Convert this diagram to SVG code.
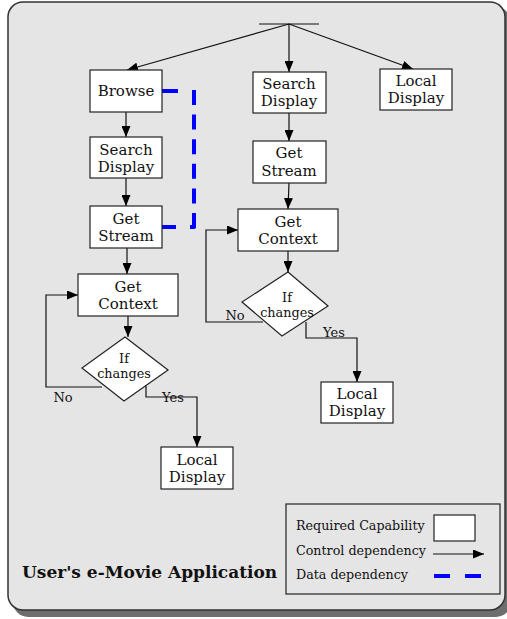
<svg xmlns="http://www.w3.org/2000/svg" width="507" height="619" viewBox="0 0 507 619">
<defs>
<marker id="ah" markerUnits="userSpaceOnUse" markerWidth="11" markerHeight="9" refX="11" refY="4.5" orient="auto"><path d="M0,0 L11,4.5 L0,9 z" fill="#000"/></marker>
<style>
.box{fill:#fff;stroke:#222;stroke-width:1.2}
.t{font-family:"DejaVu Serif",serif;font-size:15px;fill:#111;text-anchor:middle}
.s{font-family:"DejaVu Serif",serif;font-size:12.8px;fill:#111;text-anchor:middle}
.l{font-family:"DejaVu Serif",serif;font-size:13px;fill:#111}
.g{font-family:"DejaVu Serif",serif;font-size:12.7px;fill:#111}
.c{fill:none;stroke:#111;stroke-width:1.2;marker-end:url(#ah)}
.c0{fill:none;stroke:#111;stroke-width:1.2}
.d{fill:none;stroke:#0000ff;stroke-width:4}
</style>
</defs>
<rect x="13" y="7" width="498" height="610" rx="15" fill="#6e6e6e"/>
<rect x="8" y="2" width="497" height="608" rx="15" fill="#e5e5e5" stroke="#333" stroke-width="1.5"/>
<g id="connectors">
<line class="c0" x1="259" y1="24" x2="319" y2="24"/>
<line class="c" x1="289" y1="24" x2="127" y2="70"/>
<line class="c" x1="289" y1="24" x2="289" y2="72"/>
<line class="c" x1="289" y1="24" x2="413" y2="69"/>
<line class="c" x1="126" y1="112" x2="126" y2="137"/>
<line class="c" x1="126" y1="178" x2="126" y2="206"/>
<line class="c" x1="127" y1="248" x2="127" y2="274"/>
<line class="c" x1="128" y1="316" x2="128" y2="337"/>
<path class="c" d="M102,387 H46 V295 H78"/>
<path class="c" d="M146,386 V397 H197 V447"/>
<line class="c" x1="289" y1="113" x2="289" y2="141"/>
<line class="c" x1="289" y1="183" x2="288" y2="209"/>
<line class="c" x1="288" y1="251" x2="288" y2="272"/>
<path class="c" d="M263,322 H206 V230 H238"/>
<path class="c" d="M306,322 V338 H357 V382"/>
<line class="d" x1="162" y1="91" x2="178" y2="91"/>
<line class="d" x1="194" y1="90" x2="194" y2="228" stroke-dasharray="15 9.6"/>
<path class="d" d="M162,227 H176"/>
<path class="d" d="M194,222 V227 H190" stroke-linejoin="round"/>
<text class="l" x="63" y="402" text-anchor="middle">No</text>
<text class="l" x="173" y="402" text-anchor="middle">Yes</text>
<text class="l" x="235" y="320" text-anchor="middle">No</text>
<text class="l" x="334" y="337" text-anchor="middle">Yes</text>
</g>
<g id="browse"><rect class="box" x="90" y="70" width="72" height="42"/><text class="t" x="126" y="96">Browse</text></g>
<g id="search-display-left"><rect class="box" x="90" y="137" width="72" height="41"/><text class="t" x="126" y="155">Search</text><text class="t" x="126" y="172">Display</text></g>
<g id="get-stream-left"><rect class="box" x="90" y="206" width="72" height="42"/><text class="t" x="126" y="224">Get</text><text class="t" x="126" y="241">Stream</text></g>
<g id="get-context-left"><rect class="box" x="78" y="274" width="100" height="42"/><text class="t" x="128" y="292">Get</text><text class="t" x="128" y="309">Context</text></g>
<g id="if-changes-left"><polygon class="box" points="125,337 168,370 124,401 82,368"/><text class="s" x="124" y="363">If</text><text class="s" x="124" y="378">changes</text></g>
<g id="local-display-left"><rect class="box" x="161" y="447" width="72" height="42"/><text class="t" x="197" y="465">Local</text><text class="t" x="197" y="482">Display</text></g>
<g id="search-display-right"><rect class="box" x="253" y="72" width="73" height="41"/><text class="t" x="289" y="89">Search</text><text class="t" x="289" y="106">Display</text></g>
<g id="local-display-top"><rect class="box" x="380" y="69" width="72" height="41"/><text class="t" x="416" y="86">Local</text><text class="t" x="416" y="103">Display</text></g>
<g id="get-stream-right"><rect class="box" x="253" y="141" width="73" height="42"/><text class="t" x="289" y="158">Get</text><text class="t" x="289" y="176">Stream</text></g>
<g id="get-context-right"><rect class="box" x="238" y="209" width="100" height="42"/><text class="t" x="288" y="227">Get</text><text class="t" x="288" y="244">Context</text></g>
<g id="if-changes-right"><polygon class="box" points="288,272 328,306 282,336 242,302"/><text class="s" x="287" y="302">If</text><text class="s" x="287" y="317">changes</text></g>
<g id="local-display-right"><rect class="box" x="321" y="382" width="72" height="41"/><text class="t" x="357" y="399">Local</text><text class="t" x="357" y="416">Display</text></g>
<g id="title"><text x="22" y="578" font-family="DejaVu Serif, serif" font-size="17" font-weight="bold" fill="#111">User's e-Movie Application</text></g>
<g id="legend">
<rect x="286" y="504" width="214" height="90" fill="none" stroke="#222" stroke-width="1.2"/>
<text class="g" x="296" y="530">Required Capability</text>
<rect class="box" x="434" y="515" width="41" height="26"/>
<text class="g" x="296" y="555">Control dependency</text>
<line class="c" x1="433" y1="554" x2="484" y2="554"/>
<text class="g" x="296" y="579">Data dependency</text>
<line x1="434" y1="576" x2="481" y2="576" stroke="#0000ff" stroke-width="4" stroke-dasharray="16 15"/>
</g>
</svg>
